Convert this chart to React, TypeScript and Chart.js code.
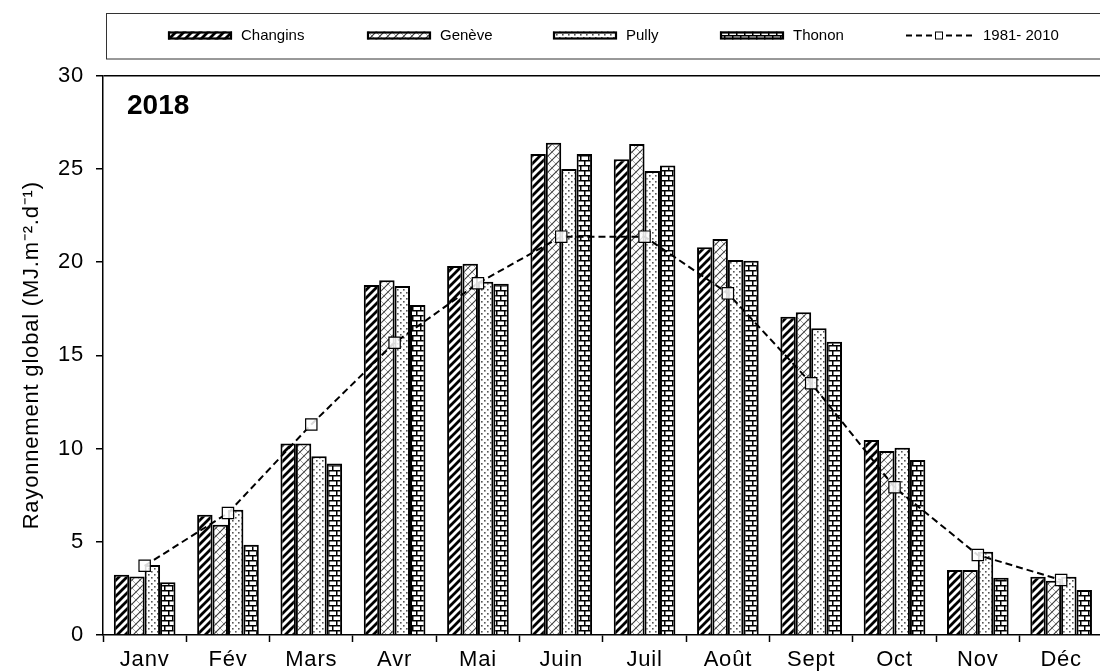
import React, { useEffect, useRef } from 'react';
import { Chart, registerables } from 'chart.js';

Chart.register(...registerables);

// ---- Data -------------------------------------------------------------
const months = ['Janv', 'Fév', 'Mars', 'Avr', 'Mai', 'Juin', 'Juil', 'Août', 'Sept', 'Oct', 'Nov', 'Déc'];
const changins = [3.23, 6.45, 10.27, 18.77, 19.79, 25.79, 25.51, 20.79, 17.07, 10.46, 3.49, 3.13];
const geneve = [3.14, 5.91, 10.27, 19.02, 19.91, 26.4, 26.33, 21.23, 17.3, 9.87, 3.49, 2.91];
const pully = [3.76, 6.72, 9.59, 18.71, 18.94, 24.99, 24.88, 20.11, 16.45, 10.04, 4.47, 3.13];
const thonon = [2.83, 4.84, 9.19, 17.69, 18.84, 25.79, 25.18, 20.07, 15.73, 9.38, 3.07, 2.41];
const normale = [3.71, 6.54, 11.29, 15.67, 18.86, 21.36, 21.36, 18.32, 13.5, 7.92, 4.29, 2.95];
const yTicks = [0, 5, 10, 15, 20, 25, 30];
const seriesNames = ['Changins', 'Genève', 'Pully', 'Thonon', '1981- 2010'];
const yTitle = 'Rayonnement global (MJ.m⁻².d⁻¹)';
const yearLabel = '2018';

const FONT = "'Liberation Sans', Arial, sans-serif";

// ---- Patterns -----------------------------------------------------------
function makePattern(w: number, h: number, draw: (c: CanvasRenderingContext2D) => void): CanvasPattern {
  const cv = document.createElement('canvas');
  cv.width = w;
  cv.height = h;
  const c = cv.getContext('2d') as CanvasRenderingContext2D;
  c.fillStyle = '#fff';
  c.fillRect(0, 0, w, h);
  draw(c);
  return c.createPattern(cv, 'repeat') as CanvasPattern;
}

function diag(c: CanvasRenderingContext2D, s: number, up: boolean) {
  c.beginPath();
  for (let k = -1; k <= 1; k++) {
    if (up) {
      c.moveTo(k * s - 1, s + 1);
      c.lineTo(k * s + s + 1, -1);
    } else {
      c.moveTo(k * s - 1, -1);
      c.lineTo(k * s + s + 1, s + 1);
    }
  }
  c.stroke();
}

function buildPatterns() {
  const pChangins = makePattern(8, 8, (c) => {
    c.strokeStyle = '#000';
    c.lineWidth = 2.8;
    diag(c, 8, true);
  });
  const pGeneve = makePattern(8, 8, (c) => {
    c.strokeStyle = '#a8a8a8';
    c.lineWidth = 1;
    diag(c, 8, false);
    c.strokeStyle = '#3a3a3a';
    c.lineWidth = 1.1;
    diag(c, 8, true);
  });
  const pPully = makePattern(6, 6, (c) => {
    c.fillStyle = '#555';
    c.fillRect(1, 1, 1.6, 1.6);
    c.fillRect(4, 4, 1.6, 1.6);
  });
  const pThonon = makePattern(8, 10, (c) => {
    c.fillStyle = '#000';
    c.fillRect(0, 0, 8, 1.5);
    c.fillRect(0, 5, 8, 1.5);
    c.fillRect(0, 0, 1.5, 5);
    c.fillRect(4, 5, 1.5, 5);
  });
  return [pChangins, pGeneve, pPully, pThonon];
}

// ---- Custom drawing (legend box, legend, year label) ------------------------
const legendX = [168, 367, 553, 720, 906];

const decorPlugin = {
  id: 'decor',
  beforeDraw(chart: any) {
    const ctx = chart.ctx;
    ctx.letterSpacing = '0.8px';
  },
  afterDraw(chart: any) {
    const ctx: CanvasRenderingContext2D = chart.ctx;
    const area = chart.chartArea;
    ctx.save();
    (ctx as any).letterSpacing = '0px';

    // legend frame
    ctx.strokeStyle = '#333';
    ctx.lineWidth = 1;
    ctx.strokeRect(106.5, 13.5, 1100, 45.5);

    const cy = 35.5;
    const ds = chart.data.datasets;
    ctx.font = `15px ${FONT}`;
    ctx.textBaseline = 'middle';
    ctx.fillStyle = '#000';
    for (let i = 0; i < ds.length; i++) {
      const d = ds[i];
      const x = legendX[i];
      if (d.type === 'line') {
        ctx.save();
        ctx.strokeStyle = '#000';
        ctx.lineWidth = 2;
        ctx.setLineDash([6, 4]);
        ctx.beginPath();
        ctx.moveTo(x, cy);
        ctx.lineTo(x + 66, cy);
        ctx.stroke();
        ctx.setLineDash([]);
        ctx.fillStyle = '#fff';
        ctx.fillRect(x + 29, cy - 4, 8, 8);
        ctx.lineWidth = 1;
        ctx.strokeRect(x + 29.5, cy - 3.5, 7, 7);
        ctx.restore();
        ctx.fillText(d.label, x + 77, cy + 0.5);
      } else {
        ctx.fillStyle = d.backgroundColor;
        ctx.fillRect(x, cy - 4, 64, 8);
        ctx.strokeStyle = '#000';
        ctx.lineWidth = 2.2;
        ctx.strokeRect(x + 1, cy - 3, 62, 6);
        ctx.fillStyle = '#000';
        ctx.fillText(d.label, x + 73, cy + 0.5);
      }
    }

    // year label
    ctx.font = `bold 28px ${FONT}`;
    ctx.textBaseline = 'alphabetic';
    ctx.textAlign = 'left';
    ctx.fillStyle = '#000';
    ctx.fillText(yearLabel, area.left + 24, area.top + 38);
    ctx.restore();
  },
};

export default function App() {
  const ref = useRef<HTMLCanvasElement | null>(null);

  useEffect(() => {
    const canvas = ref.current;
    if (!canvas) return;
    const [pC, pG, pP, pT] = buildPatterns();
    const barCommon = {
      borderColor: '#000',
      borderWidth: 2,
      barPercentage: 1,
      categoryPercentage: 0.74,
      order: 1,
    };
    const chart = new Chart(canvas, {
      type: 'bar',
      data: {
        labels: months,
        datasets: [
          { ...barCommon, label: seriesNames[0], data: changins, backgroundColor: pC },
          { ...barCommon, label: seriesNames[1], data: geneve, backgroundColor: pG },
          { ...barCommon, label: seriesNames[2], data: pully, backgroundColor: pP },
          { ...barCommon, label: seriesNames[3], data: thonon, backgroundColor: pT },
          {
            type: 'line',
            label: seriesNames[4],
            data: normale,
            order: 0,
            borderColor: '#000',
            borderWidth: 2,
            borderDash: [7, 4],
            tension: 0,
            fill: false,
            pointStyle: 'rect',
            pointRadius: 8,
            pointBorderWidth: 1.2,
            pointBorderColor: '#000',
            pointBackgroundColor: 'rgba(255,255,255,0.85)',
          } as any,
        ],
      },
      options: {
        responsive: false,
        animation: false,
        devicePixelRatio: 1,
        layout: { padding: { top: 75.5, right: 3, bottom: 0, left: 0 } },
        plugins: {
          legend: { display: false },
          tooltip: { enabled: false },
          title: { display: false },
        },
        scales: {
          x: {
            grid: {
              drawOnChartArea: false,
              offset: true,
              tickLength: 7,
              tickColor: '#000',
              tickWidth: 1.5,
            },
            border: { color: '#000', width: 1.5 },
            ticks: {
              font: { family: FONT, size: 22 },
              color: '#000',
              padding: 5,
              maxRotation: 0,
              autoSkip: false,
            },
            afterFit: (s: any) => {
              s.height = 37;
            },
          },
          y: {
            min: 0,
            max: 30,
            afterBuildTicks: (s: any) => {
              s.ticks = yTicks.map((v) => ({ value: v }));
            },
            grid: {
              color: (c: any) => (c.tick && c.tick.value === 30 ? '#000' : 'rgba(0,0,0,0)'),
              lineWidth: 1.5,
              tickColor: '#000',
              tickWidth: 1.5,
              tickLength: 7,
            },
            border: { color: '#000', width: 1.5 },
            ticks: {
              font: { family: FONT, size: 22 },
              color: '#000',
              padding: 12,
            },
            title: {
              display: true,
              text: yTitle,
              font: { family: FONT, size: 22 },
              color: '#000',
              padding: { top: 19, bottom: 0 },
            },
            afterFit: (s: any) => {
              s.width = 103;
            },
          },
        },
      } as any,
      plugins: [decorPlugin as any],
    });
    return () => chart.destroy();
  }, []);

  return (
    <div
      style={{
        position: 'fixed',
        left: 0,
        top: 0,
        width: 1100,
        height: 672,
        overflow: 'hidden',
        background: '#fff',
      }}
    >
      <canvas ref={ref} width={1112} height={672} style={{ display: 'block' }} />
    </div>
  );
}
